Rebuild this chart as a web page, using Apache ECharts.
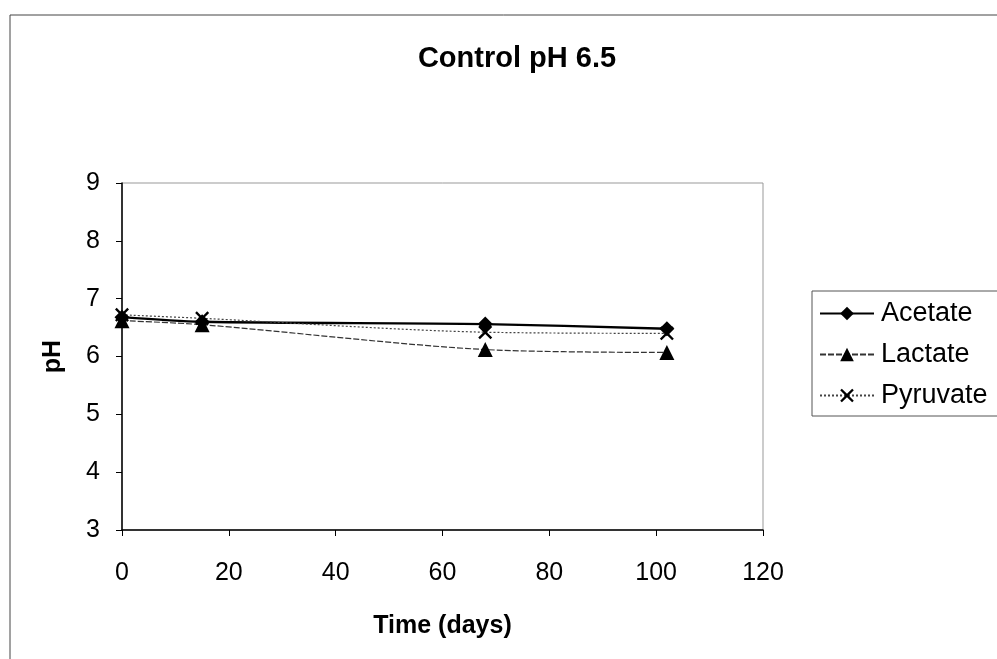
<!DOCTYPE html>
<html><head><meta charset="utf-8">
<script src="https://cdn.jsdelivr.net/npm/echarts@6/dist/echarts.min.js"></script>
<style>html,body{margin:0;padding:0;background:#fff;overflow:hidden}#c{width:997px;height:659px}</style>
</head><body><div id="c"></div>
<script>
const days = [0, 15, 68, 102];
const acetate = [6.68, 6.60, 6.56, 6.48];
const lactate = [6.62, 6.55, 6.12, 6.07];
const pyruvate = [6.72, 6.66, 6.42, 6.40];
const xTicks = [0, 20, 40, 60, 80, 100, 120];
const yTicks = [3, 4, 5, 6, 7, 8, 9];

const xPath = 'path://M0,1.2 L1.2,0 L5,3.8 L8.8,0 L10,1.2 L6.2,5 L10,8.8 L8.8,10 L5,6.2 L1.2,10 L0,8.8 L3.8,5 Z';
const font = '"Liberation Sans", Arial, sans-serif';
const pairs = a => days.map((d, i) => [d, a[i]]);

const chart = echarts.init(document.getElementById('c'));
chart.setOption({
  animation: false,
  backgroundColor: '#fff',
  title: {
    text: 'Control pH 6.5', left: 512, top: 39, textAlign: 'center',
    textStyle: { fontFamily: font, fontSize: 29, fontWeight: 'bold', color: '#000' }
  },
  grid: { left: 122, right: 234, top: 183, bottom: 129, show: true, borderColor: '#999', borderWidth: 1 },
  xAxis: {
    type: 'value', min: xTicks[0], max: xTicks[xTicks.length - 1], interval: 20,
    name: 'Time (days)', nameLocation: 'middle', nameGap: 84,
    nameTextStyle: { fontFamily: font, fontSize: 25, fontWeight: 'bold', color: '#000' },
    axisLine: { lineStyle: { color: '#000', width: 1.5 } },
    axisTick: { show: true, length: 6, lineStyle: { color: '#000' } },
    axisLabel: { fontFamily: font, fontSize: 25, color: '#000', margin: 31 },
    splitLine: { show: false }
  },
  yAxis: {
    type: 'value', min: yTicks[0], max: yTicks[yTicks.length - 1], interval: 1,
    name: 'pH', nameLocation: 'middle', nameGap: 56, nameRotate: 90,
    nameTextStyle: { fontFamily: font, fontSize: 25, fontWeight: 'bold', color: '#000' },
    axisLine: { show: true, lineStyle: { color: '#000', width: 1.5 } },
    axisTick: { show: true, length: 6, lineStyle: { color: '#000' } },
    axisLabel: { fontFamily: font, fontSize: 25, color: '#000', margin: 22 },
    splitLine: { show: false }
  },
  legend: {
    orient: 'vertical', left: 812, top: 291, itemGap: 14,
    itemWidth: 54, itemHeight: 17,
    borderColor: '#555', borderWidth: 1, padding: [9, 20, 7, 7],
    textStyle: { fontFamily: font, fontSize: 27, color: '#000', padding: [0, 0, 0, 2] },
    data: ['Acetate', 'Lactate', 'Pyruvate']
  },
  series: [
    {
      name: 'Acetate', type: 'line', smooth: 0.3, data: pairs(acetate),
      symbol: 'diamond', symbolSize: 15,
      lineStyle: { color: '#000', width: 2.4 }, itemStyle: { color: '#000' }
    },
    {
      name: 'Lactate', type: 'line', smooth: 0.3, data: pairs(lactate),
      symbol: 'triangle', symbolSize: 15,
      lineStyle: { color: '#333', width: 1.2, type: [6, 2] }, itemStyle: { color: '#000' }
    },
    {
      name: 'Pyruvate', type: 'line', smooth: 0.3, data: pairs(pyruvate),
      symbol: xPath, symbolSize: 14,
      lineStyle: { color: '#444', width: 1.2, type: [2, 2] }, itemStyle: { color: '#000' }
    }
  ],
  graphic: [
    { type: 'line', shape: { x1: 10, y1: 15, x2: 997, y2: 15 }, style: { stroke: '#444', lineWidth: 1 } },
    { type: 'line', shape: { x1: 10, y1: 15, x2: 10, y2: 659 }, style: { stroke: '#444', lineWidth: 1 } }
  ]
});
</script></body></html>
